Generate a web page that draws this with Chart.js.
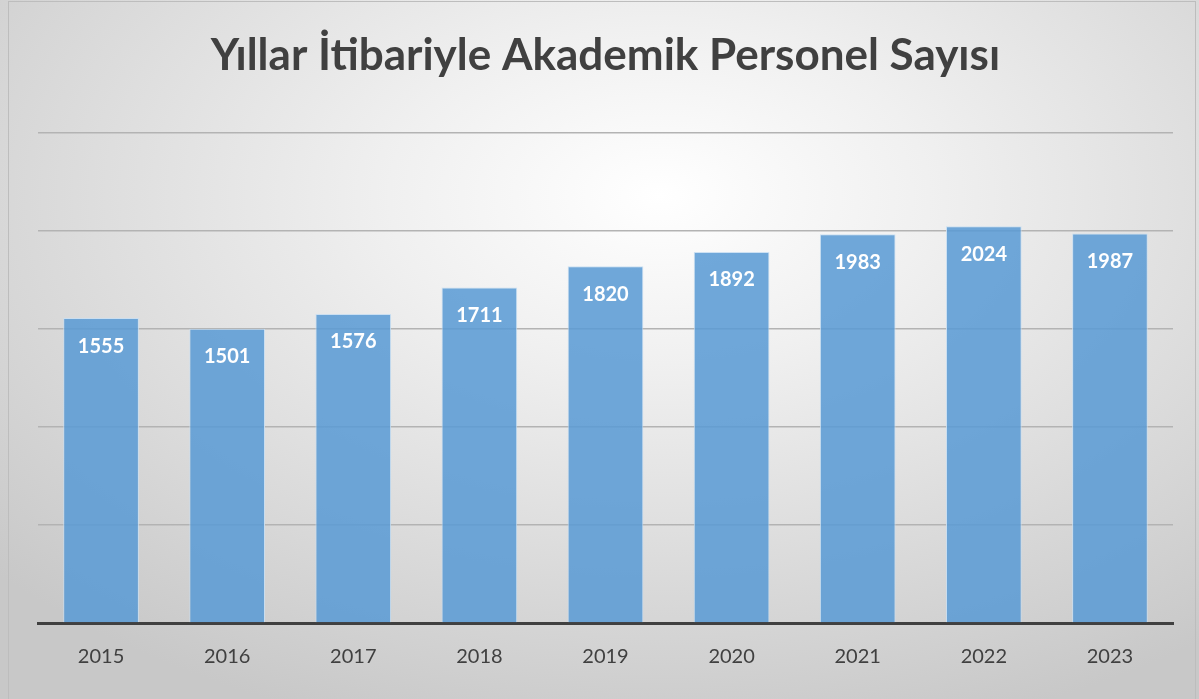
<!DOCTYPE html>
<html>
<head>
<meta charset="utf-8">
<script src="https://cdn.jsdelivr.net/npm/chart.js"></script>
<style>
    html, body { margin: 0; padding: 0; background: #ffffff; }
    .wrap {
        position: absolute; left: 0; top: 0; width: 1199px; height: 699px;
        background: radial-gradient(ellipse 75% 80% at 55% 28%, #ffffff 0%, #f0f0f0 30%, #dcdcdc 65%, #c8c8c8 100%);
    }
    .frame {
        position: absolute; left: 8px; top: 1px; width: 1186px; height: 700px;
        border: 1px solid #bdbdbd; pointer-events: none;
    }
</style>
</head>
<body>
<div class="wrap"><canvas id="chart" width="1199" height="699"></canvas></div>
<div class="frame"></div>
<script>
    var years = ["2015", "2016", "2017", "2018", "2019", "2020", "2021", "2022", "2023"];
    var staffCounts = [1555, 1501, 1576, 1711, 1820, 1892, 1983, 2024, 1987];
    var chartTitle = "Yıllar İtibariyle Akademik Personel Sayısı";

    var fontFamily = "Lato, 'Open Sans', sans-serif";

    // white value labels inside the top of each bar
    var barLabels = {
        id: "barLabels",
        afterDatasetsDraw: function(chart) {
            var ctx = chart.ctx;
            var meta = chart.getDatasetMeta(0);
            ctx.save();
            ctx.fillStyle = "#ffffff";
            ctx.font = "bold 20px " + fontFamily;
            ctx.textAlign = "center";
            ctx.textBaseline = "middle";
            meta.data.forEach(function(bar, i) {
                ctx.fillText(String(staffCounts[i]), bar.x, bar.y + 28);
            });
            ctx.restore();
        }
    };

    new Chart(document.getElementById("chart").getContext("2d"), {
        type: "bar",
        data: {
            labels: years,
            datasets: [{
                label: "Akademik Personel",
                data: staffCounts,
                backgroundColor: "rgba(91,155,213,0.87)",
                borderColor: "rgba(200,222,242,0.9)",
                borderWidth: 1,
                borderSkipped: "bottom",
                categoryPercentage: 1,
                barPercentage: 0.6
            }]
        },
        options: {
            responsive: false,
            animation: false,
            layout: { padding: { left: 38, right: 26, top: 0, bottom: 16 } },
            plugins: {
                legend: { display: false },
                tooltip: { enabled: false },
                title: {
                    display: true,
                    text: chartTitle,
                    color: "#404040",
                    font: { family: fontFamily, size: 44, weight: "bold" },
                    padding: { top: 29, bottom: 51 }
                }
            },
            scales: {
                x: {
                    grid: { display: false },
                    border: { display: true, color: "#404040", width: 3 },
                    ticks: {
                        color: "#404040",
                        padding: 14,
                        font: { family: fontFamily, size: 20 }
                    }
                },
                y: {
                    min: 0,
                    max: 2500,
                    ticks: { display: false, stepSize: 500 },
                    border: { display: false },
                    grid: { color: "#b3b3b3", lineWidth: 1.5, drawTicks: false }
                }
            }
        },
        plugins: [barLabels]
    });
</script>
</body>
</html>
